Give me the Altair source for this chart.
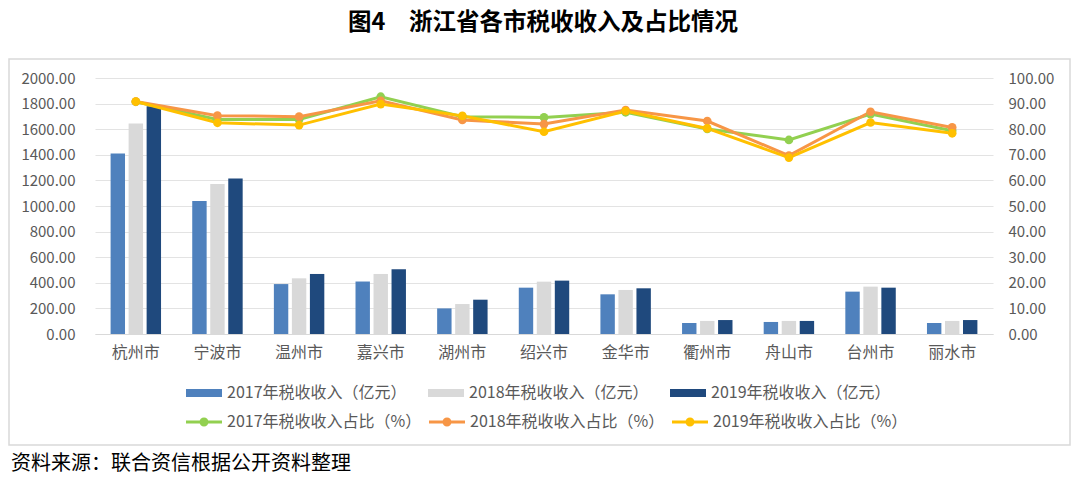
import altair as alt
import pandas as pd

title_text = "图4　浙江省各市税收收入及占比情况"
source_text = "资料来源：联合资信根据公开资料整理"

cities = ["杭州市", "宁波市", "温州市", "嘉兴市", "湖州市", "绍兴市",
          "金华市", "衢州市", "舟山市", "台州市", "丽水市"]

bar_series = ["2017年税收收入（亿元）", "2018年税收收入（亿元）", "2019年税收收入（亿元）"]
line_series = ["2017年税收收入占比（%）", "2018年税收收入占比（%）", "2019年税收收入占比（%）"]

rev_2017 = [1410, 1040, 390, 410, 200, 362, 310, 86, 94, 331, 86]
rev_2018 = [1645, 1172, 435, 469, 234, 409, 344, 102, 102, 370, 102]
rev_2019 = [1780, 1214, 469, 505, 268, 417, 357, 109, 102, 362, 109]

share_2017 = [90.7, 83.8, 83.8, 92.7, 84.9, 84.6, 86.6, 80.1, 75.8, 85.9, 79.4]
share_2018 = [90.8, 85.3, 84.9, 91.1, 83.6, 82.0, 87.5, 83.2, 69.7, 86.8, 80.7]
share_2019 = [90.8, 82.5, 81.6, 89.8, 85.2, 79.0, 87.1, 80.3, 68.9, 82.6, 78.4]

bar_colors = ["#4f81bd", "#d9d9d9", "#1f497d"]
line_colors = ["#92d050", "#f79646", "#ffc000"]

bar_rows = []
for s, vals in zip(bar_series, [rev_2017, rev_2018, rev_2019]):
    for c, v in zip(cities, vals):
        bar_rows.append({"city": c, "series": s, "value": v})
bar_df = pd.DataFrame(bar_rows)

line_rows = []
for s, vals in zip(line_series, [share_2017, share_2018, share_2019]):
    for c, v in zip(cities, vals):
        line_rows.append({"city": c, "series": s, "value": v})
line_df = pd.DataFrame(line_rows)

FONT = "Noto Sans CJK SC"
GRAY = "#595959"

x_axis = alt.Axis(title=None, labelAngle=0, labelFontSize=16, labelColor=GRAY,
                  labelPadding=10, ticks=False, domain=True, domainColor="#d9d9d9",
                  labelFont=FONT)
x_scale = alt.Scale(paddingInner=0.338, paddingOuter=0.169)

right_axis = alt.Axis(title=None, orient="right", values=list(range(0, 101, 10)),
                      format=".2f", grid=False, domain=False, ticks=False,
                      labelOverlap=False,
                      labelPadding=15, labelFontSize=15, labelColor=GRAY)
right_scale = alt.Scale(domain=[0, 100], nice=False)

bar_path = "M-1,-0.22H1V0.22H-1Z"
line_path = ("M-1,-0.085H1V0.085H-1Z "
             "M0,-0.25A0.25,0.25 0 1,1 0,0.25A0.25,0.25 0 1,1 0,-0.25Z")

line_legend = alt.Legend(title=None, orient="none", legendX=91, legendY=326,
                         direction="horizontal", columns=3,
                         symbolType=line_path, symbolSize=1296,
                         symbolStrokeWidth=0, symbolOpacity=1, labelFontSize=16,
                         labelColor=GRAY, labelOffset=5, labelLimit=400,
                         columnPadding=7, padding=0)

bars = alt.Chart(bar_df).mark_bar().encode(
    x=alt.X("city:N", sort=cities, scale=x_scale, axis=x_axis),
    xOffset=alt.XOffset("series:N", sort=bar_series,
                        scale=alt.Scale(paddingInner=0.2, paddingOuter=0.1)),
    y=alt.Y("value:Q", scale=alt.Scale(domain=[0, 2000], nice=False),
            axis=alt.Axis(title=None, values=list(range(0, 2001, 200)), format=".2f",
                          grid=True, gridColor="#e3e3e3", domain=False, ticks=False,
                          labelOverlap=False,
                          labelPadding=20, labelFontSize=15, labelColor=GRAY)),
    color=alt.Color("series:N", sort=bar_series,
                    scale=alt.Scale(domain=bar_series, range=bar_colors),
                    legend=alt.Legend(title=None, orient="none", legendX=91, legendY=297,
                                      direction="horizontal", columns=3,
                                      symbolType=bar_path, symbolSize=1296,
                                      symbolStrokeWidth=0, labelFontSize=16,
                                      labelColor=GRAY, labelOffset=5, labelLimit=400,
                                      columnPadding=21, padding=0)),
)

lines = alt.Chart(line_df).mark_line(strokeWidth=3).encode(
    x=alt.X("city:N", sort=cities, scale=x_scale, axis=x_axis, bandPosition=0.5),
    y=alt.Y("value:Q", scale=right_scale, axis=right_axis),
    color=alt.Color("series:N", sort=line_series,
                    scale=alt.Scale(domain=line_series, range=line_colors),
                    legend=line_legend),
)

points = alt.Chart(line_df).mark_circle(size=75, opacity=1).encode(
    x=alt.X("city:N", sort=cities, scale=x_scale, axis=x_axis, bandPosition=0.5),
    y=alt.Y("value:Q", scale=right_scale, axis=right_axis),
    color=alt.Color("series:N", sort=line_series,
                    scale=alt.Scale(domain=line_series, range=line_colors),
                    legend=line_legend),
)

frame = alt.Chart(pd.DataFrame({"a": [0]})).mark_rect(
    fillOpacity=0, stroke="#d9d9d9", strokeWidth=1.5
).encode(x=alt.value(-86), x2=alt.value(975), y=alt.value(-19), y2=alt.value(367))

title = alt.Chart(pd.DataFrame({"t": [title_text]})).mark_text(
    fontSize=23.5, fontWeight="bold", color="#000000", align="center", baseline="middle",
    font=FONT
).encode(text="t:N", x=alt.value(448), y=alt.value(-55))

source = alt.Chart(pd.DataFrame({"t": [source_text]})).mark_text(
    fontSize=20, color="#000000", align="left", baseline="middle", font=FONT
).encode(text="t:N", x=alt.value(-84), y=alt.value(386))

line_layer = alt.layer(lines, points)

chart = alt.layer(frame, bars, line_layer, title, source).resolve_scale(
    y="independent", color="independent"
).properties(
    width=898, height=256,
    padding={"left": 87, "top": 70, "right": 79, "bottom": 144},
    autosize=alt.AutoSizeParams(type="none"),
).configure(font=FONT).configure_view(strokeWidth=0)

chart.save("out.html", embed_options={"renderer": "svg", "actions": False})
